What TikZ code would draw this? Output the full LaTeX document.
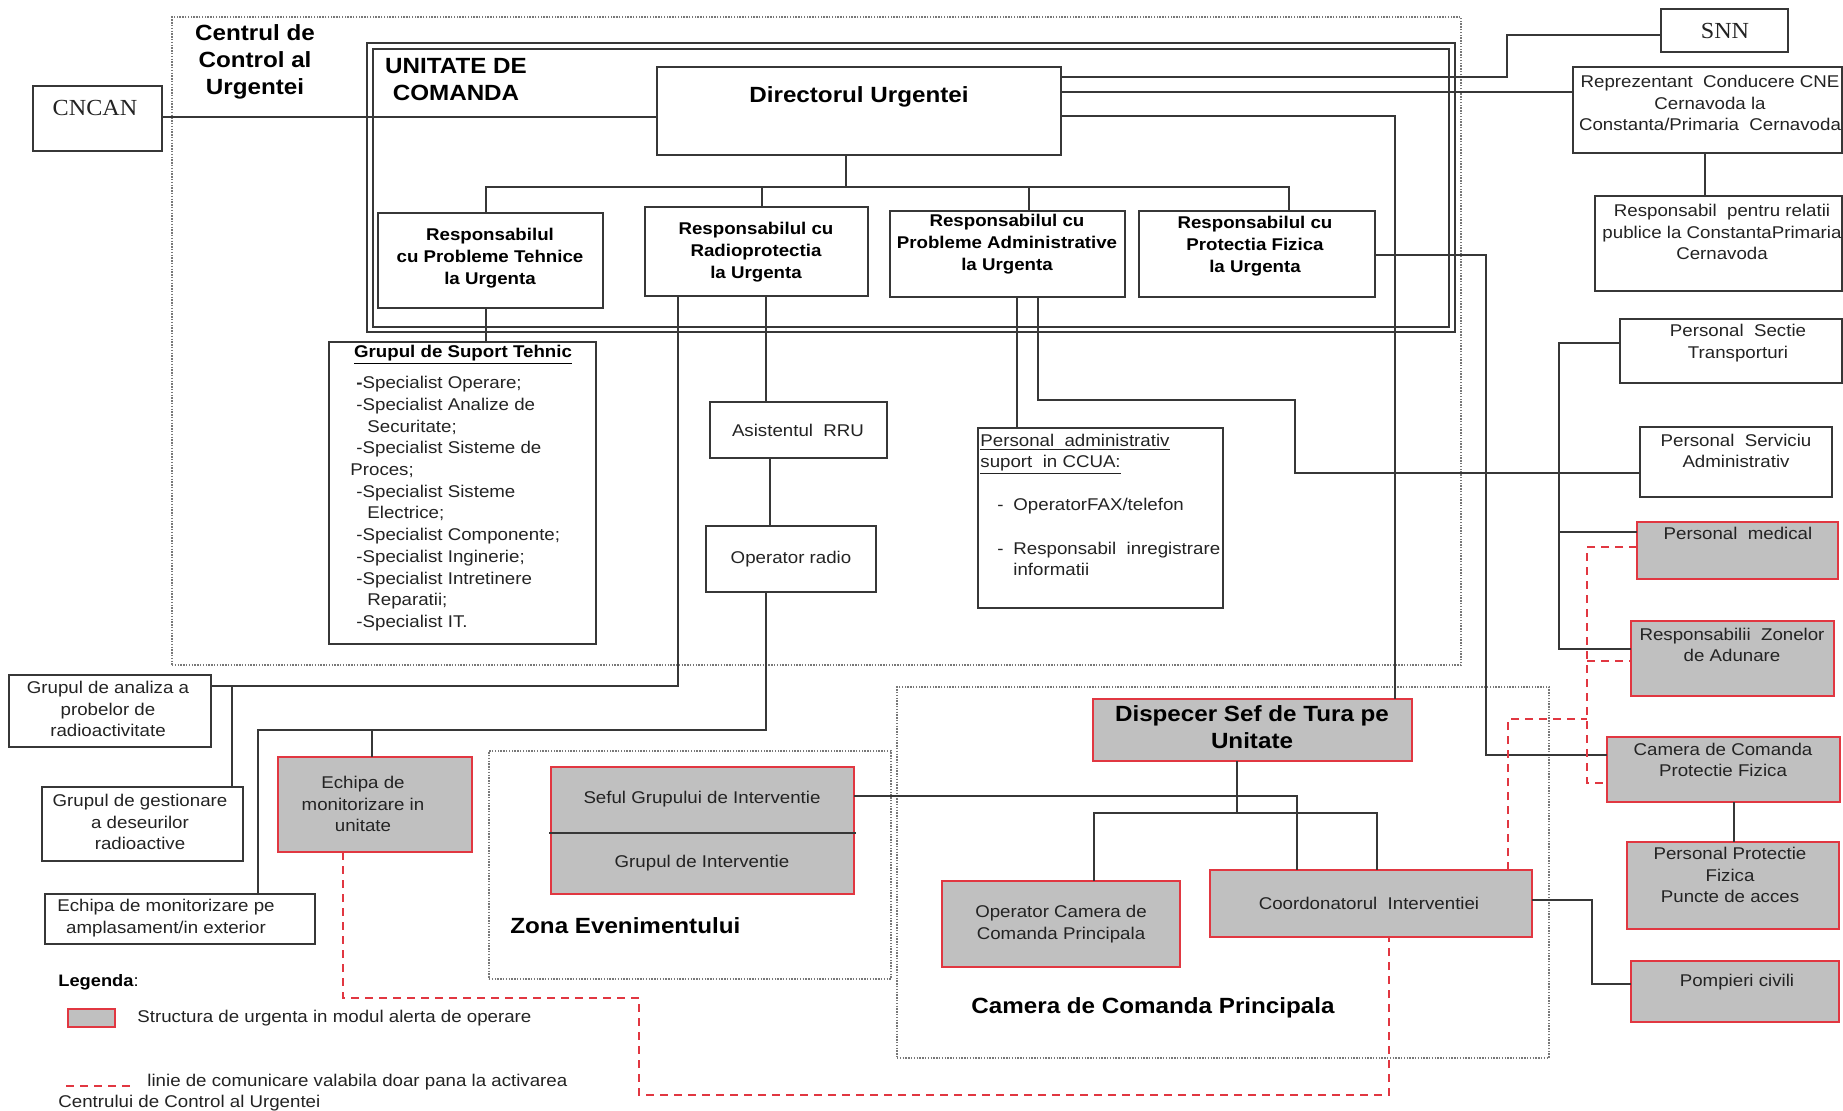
\documentclass[tikz,border=0pt]{standalone}
\usepackage{fontspec}
\setmainfont{Liberation Sans}[FakeStretch=1.1]
\newfontfamily\serifcn{Liberation Serif}[FakeStretch=1.05]
\definecolor{grayfill}{RGB}{192,192,192}
\definecolor{redcol}{RGB}{225,55,65}
\definecolor{linecol}{RGB}{55,55,55}
\definecolor{dotcol}{RGB}{120,120,120}
\definecolor{txtcol}{RGB}{35,35,35}
\newcommand\mkbox[6]{\node[#1, minimum width={(#5-#3)*0.5pt}, minimum height={(#6-#4)*0.5pt}, anchor=north west] (#2) at (#3,#4) {};}
\begin{document}
\begin{tikzpicture}[x=0.5pt,y=-0.5pt,
  box/.style={rectangle, draw=linecol, line width=0.9pt, inner sep=0pt, outer sep=0pt},
  rbox/.style={rectangle, draw=redcol, fill=grayfill, line width=0.9pt, inner sep=0pt, outer sep=0pt},
  dotbox/.style={rectangle, draw=dotcol, line width=0.7pt, dash pattern=on 0.7pt off 0.7pt, inner sep=0pt, outer sep=0pt},
  conn/.style={draw=linecol, line width=0.8pt},
  rdash/.style={draw=redcol, line width=1pt, dash pattern=on 4pt off 3pt},
  txt/.style={font=\fontsize{8.5}{10.75}\selectfont, align=center, text=txtcol, inner sep=0pt},
  btxt/.style={font=\bfseries\fontsize{8.5}{11}\selectfont, align=center, text=black, inner sep=0pt},
  bigtxt/.style={font=\bfseries\fontsize{11}{13.5}\selectfont, align=center, text=black, inner sep=0pt},
  sertxt/.style={font=\serifcn\fontsize{11.5}{13}\selectfont, text=txtcol, inner sep=0pt}
]
\fill[white] (0,0) rectangle (1843,1110);
\useasboundingbox (0,0) rectangle (1843,1110);

% containers
\mkbox{dotbox}{ccu}{172}{17}{1461}{665}
\mkbox{dotbox}{ze}{489}{751}{891}{979}
\mkbox{dotbox}{ccp}{897}{687}{1549}{1058}
\mkbox{box, line width=1.1pt}{ucout}{367}{43}{1455}{332}
\mkbox{box, line width=0.8pt}{ucin}{373}{49}{1449}{327}

% plain boxes
\mkbox{box}{cncan}{33}{86}{162}{151}
\mkbox{box}{dir}{657}{67}{1061}{155}
\mkbox{box}{snn}{1661}{9}{1788}{52}
\mkbox{box}{rep}{1573}{67}{1842}{153}
\mkbox{box}{rrp}{1595}{196}{1842}{291}
\mkbox{box}{pst}{1620}{319}{1842}{383}
\mkbox{box}{psa}{1640}{427}{1832}{497}
\mkbox{box}{ra}{378}{213}{603}{308}
\mkbox{box}{rb}{645}{207}{868}{296}
\mkbox{box}{rc}{890}{211}{1125}{297}
\mkbox{box}{rd}{1139}{211}{1375}{297}
\mkbox{box}{gst}{329}{342}{596}{644}
\mkbox{box}{asis}{710}{402}{887}{458}
\mkbox{box}{opr}{706}{526}{876}{592}
\mkbox{box}{padm}{978}{428}{1223}{608}
\mkbox{box}{gap}{9}{675}{211}{747}
\mkbox{box}{ggd}{42}{787}{243}{861}
\mkbox{box}{emp}{45}{894}{315}{944}

% grey / red boxes
\mkbox{rbox}{pmed}{1637}{522}{1838}{579}
\mkbox{rbox}{rza}{1631}{621}{1834}{696}
\mkbox{rbox}{ccpf}{1607}{737}{1840}{802}
\mkbox{rbox}{ppf}{1627}{842}{1839}{929}
\mkbox{rbox}{pomp}{1631}{961}{1839}{1022}
\mkbox{rbox}{emu}{278}{757}{472}{852}
\mkbox{rbox}{sgi}{551}{767}{854}{894}
\mkbox{rbox}{dst}{1093}{699}{1412}{761}
\mkbox{rbox}{ocp}{942}{881}{1180}{967}
\mkbox{rbox}{coi}{1210}{870}{1532}{937}
\mkbox{rbox}{legbox}{68}{1009}{115}{1027}
\draw[conn, line width=1pt] (549,833) -- (856,833);

% solid connectors
\draw[conn] (cncan.east |- 0,117) -- (dir.west |- 0,117);
\draw[conn] (dir.east |- 0,77) -- (1507,77) -- (1507,35) -- (snn.west |- 0,35);
\draw[conn] (dir.east |- 0,92) -- (rep.west |- 0,92);
\draw[conn] (dir.east |- 0,116) -- (1395,116) -- (1395,0 |- dst.north);
\draw[conn] (846,0 |- dir.south) -- (846,187);
\draw[conn] (486,0 |- ra.north) -- (486,187) -- (1289,187) -- (1289,0 |- rd.north);
\draw[conn] (762,187) -- (762,0 |- rb.north);
\draw[conn] (1029,187) -- (1029,0 |- rc.north);
\draw[conn] (486,0 |- ra.south) -- (486,0 |- gst.north);
\draw[conn] (678,0 |- rb.south) -- (678,686) -- (gap.east |- 0,686);
\draw[conn] (232,686) -- (232,0 |- ggd.north);
\draw[conn] (766,0 |- rb.south) -- (766,0 |- asis.north);
\draw[conn] (770,0 |- asis.south) -- (770,0 |- opr.north);
\draw[conn] (766,0 |- opr.south) -- (766,730) -- (258,730) -- (258,0 |- emp.north);
\draw[conn] (372,730) -- (372,0 |- emu.north);
\draw[conn] (1017,0 |- rc.south) -- (1017,0 |- padm.north);
\draw[conn] (1038,0 |- rc.south) -- (1038,400) -- (1295,400) -- (1295,473) -- (psa.west |- 0,473);
\draw[conn] (rd.east |- 0,255) -- (1486,255) -- (1486,755) -- (ccpf.west |- 0,755);
\draw[conn] (1705,0 |- rep.south) -- (1705,0 |- rrp.north);
\draw[conn] (pst.west |- 0,343) -- (1559,343) -- (1559,649) -- (rza.west |- 0,649);
\draw[conn] (1559,532) -- (pmed.west |- 0,532);
\draw[conn] (1734,0 |- ccpf.south) -- (1734,0 |- ppf.north);
\draw[conn] (1237,0 |- dst.south) -- (1237,813);
\draw[conn] (1094,0 |- ocp.north) -- (1094,813) -- (1377,813) -- (1377,0 |- coi.north);
\draw[conn] (sgi.east |- 0,796) -- (1297,796) -- (1297,0 |- coi.north);
\draw[conn] (coi.east |- 0,900) -- (1592,900) -- (1592,984) -- (pomp.west |- 0,984);

% red dashed connectors
\draw[rdash] (343,0 |- emu.south) -- (343,998) -- (639,998) -- (639,1095) -- (1389,1095) -- (1389,0 |- coi.south);
\draw[rdash] (1508,0 |- coi.north) -- (1508,719) -- (1587,719);
\draw[rdash] (pmed.west |- 0,547) -- (1587,547) -- (1587,783) -- (ccpf.west |- 0,783);
\draw[rdash] (1587,661) -- (rza.west |- 0,661);
\coordinate (lgA) at (66,1086);
\coordinate (lgB) at (133,1086);
\draw[rdash] (lgA) -- (lgB);

% texts
\node[bigtxt] (tccu) at (255,62) {Centrul de\\Control al\\Urgentei};
\node[bigtxt] (tuc) at (456,80) {UNITATE DE\\COMANDA};
\node[sertxt] (tcncan) at (95,108) {CNCAN};
\node[sertxt] (tsnn) at (1725,31) {SNN};
\node[bigtxt] (tdir) at (859,97) {Directorul Urgentei};
\node[txt] (trep) at (1710,103) {Reprezentant\ \ Conducere CNE\\Cernavoda la\\Constanta/Primaria\ \ Cernavoda};
\node[txt] (trrp) at (1722,232) {Responsabil\ \ pentru relatii\\publice la ConstantaPrimaria\\Cernavoda};
\node[txt] (tpst) at (1738,343) {Personal\ \ Sectie\\Transporturi};
\node[txt] (tpsa) at (1736,451) {Personal\ \ Serviciu\\Administrativ};
\node[txt] (tpmed) at (1738,533) {Personal\ \ medical};
\node[txt] (trza) at (1732,645) {Responsabilii\ \ Zonelor\\de Adunare};
\node[txt] (tccpf) at (1723,760) {Camera de Comanda\\Protectie Fizica};
\node[txt] (tppf) at (1730,875) {Personal Protectie\\Fizica\\Puncte de acces};
\node[txt] (tpomp) at (1737,982) {Pompieri civili};
\node[btxt] (tra) at (490,258) {Responsabilul\\cu Probleme Tehnice\\la Urgenta};
\node[btxt] (trb) at (756,252) {Responsabilul cu\\Radioprotectia\\la Urgenta};
\node[btxt] (trc) at (1007,244) {Responsabilul cu\\Probleme Administrative\\la Urgenta};
\node[btxt] (trd) at (1255,246) {Responsabilul cu\\Protectia Fizica\\la Urgenta};
\node[btxt] (tgst) at (463,355) {\underline{Grupul de Suport Tehnic}};
\node[txt, align=left, anchor=north west, font=\fontsize{8.5}{10.85}\selectfont] (tgstl) at (350,376)
 {\hspace*{3pt}\textbf{-}Specialist Operare;\\
  \hspace*{3pt}-Specialist Analize de\\
  \hspace*{8.5pt}Securitate;\\
  \hspace*{3pt}-Specialist Sisteme de\\
  Proces;\\
  \hspace*{3pt}-Specialist Sisteme\\
  \hspace*{8.5pt}Electrice;\\
  \hspace*{3pt}-Specialist Componente;\\
  \hspace*{3pt}-Specialist Inginerie;\\
  \hspace*{3pt}-Specialist Intretinere\\
  \hspace*{8.5pt}Reparatii;\\
  \hspace*{3pt}-Specialist IT.};
\node[txt] (tasis) at (798,430) {Asistentul\ \ RRU};
\node[txt] (topr) at (791,559) {Operator radio};
\node[txt, anchor=base west] (tpa1) at (980,446) {\underline{Personal\ \ administrativ}};
\node[txt, anchor=base west] (tpa2) at (980,467) {\underline{suport\ \ in CCUA:}};
\node[txt, anchor=base west] (tpa3) at (997,510) {-};
\node[txt, anchor=base west] (tpa4) at (1013,510) {OperatorFAX/telefon};
\node[txt, anchor=base west] (tpa5) at (997,554) {-};
\node[txt, anchor=base west] (tpa6) at (1013,554) {Responsabil\ \ inregistrare};
\node[txt, anchor=base west] (tpa7) at (1013,575) {informatii};
\node[txt] (tgap) at (108,709) {Grupul de analiza a\\probelor de\\radioactivitate};
\node[txt] (tggd) at (140,822) {Grupul de gestionare\\a deseurilor\\radioactive};
\node[txt] (temu) at (363,804) {Echipa de\\monitorizare in\\unitate};
\node[txt] (temp) at (166,918) {Echipa de monitorizare pe\\amplasament/in exterior};
\node[bigtxt, anchor=west] (tze) at (510,926) {Zona Evenimentului};
\node[txt] (tsgi1) at (702,799) {Seful Grupului de Interventie};
\node[txt] (tsgi2) at (702,863) {Grupul de Interventie};
\node[bigtxt] (tccp) at (1153,1008) {Camera de Comanda Principala};
\node[bigtxt] (tdst) at (1252,727) {Dispecer Sef de Tura pe\\Unitate};
\node[txt] (tocp) at (1061,924) {Operator Camera de\\Comanda Principala};
\node[txt] (tcoi) at (1369,903) {Coordonatorul\ \ Interventiei};
\node[txt, anchor=base west, font=\fontsize{8.3}{10}\selectfont, text=black] (tleg) at (58,986) {\textbf{Legenda}:};
\node[txt, anchor=base west] (tleg1) at (137,1022) {Structura de urgenta in modul alerta de operare};
\node[txt, anchor=base west] (tleg2) at (147,1086) {linie de comunicare valabila doar pana la activarea};
\node[txt, anchor=base west] (tleg3) at (58,1107) {Centrului de Control al Urgentei};
\end{tikzpicture}
\end{document}
